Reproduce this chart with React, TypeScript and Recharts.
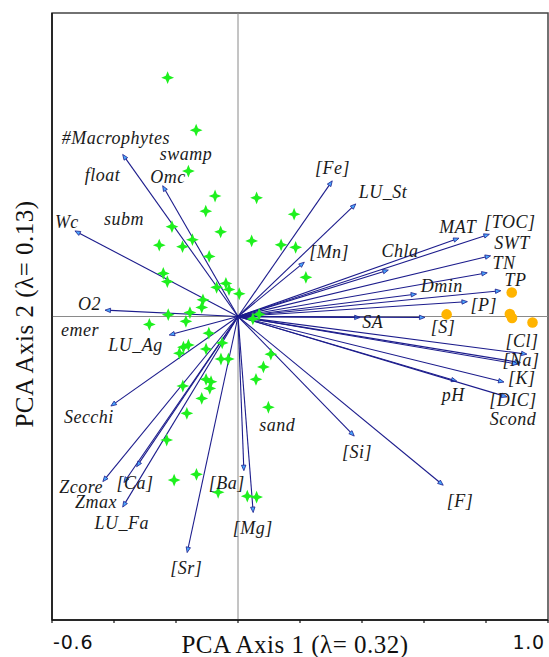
import React from 'react'
import {
  ScatterChart,
  Scatter,
  XAxis,
  YAxis,
  ReferenceLine,
  ReferenceArea,
} from 'recharts'

// lake sites (green stars)
const siteX = [-0.227, -0.135, -0.160, -0.074, 0.060, -0.104, -0.056, 0.044, -0.213, -0.147, -0.254, -0.179, -0.093, -0.241, -0.228, -0.069, -0.039, -0.029, 0.004, -0.113, -0.117, -0.155, -0.225, -0.286, -0.168, 0.181, 0.139, 0.186, 0.219, 0.068, 0.048, -0.094, -0.160, -0.176, -0.189, -0.103, -0.051, -0.055, -0.031, 0.106, 0.082, 0.058, -0.178, -0.103, -0.087, -0.091, -0.117, -0.165, 0.098, -0.230, -0.206, -0.134, -0.064, 0.030, 0.060]
const siteY = [0.787, 0.614, 0.479, 0.397, 0.391, 0.347, 0.279, 0.249, 0.296, 0.253, 0.235, 0.230, 0.198, 0.142, 0.115, 0.096, 0.109, 0.089, 0.075, 0.055, 0.030, 0.013, 0.006, -0.026, -0.016, 0.337, 0.236, 0.228, 0.129, 0.007, -0.008, -0.055, -0.094, -0.101, -0.121, -0.107, -0.087, -0.140, -0.140, -0.124, -0.166, -0.207, -0.229, -0.207, -0.215, -0.237, -0.270, -0.319, -0.299, -0.407, -0.539, -0.520, -0.579, -0.592, -0.595]

// saline sites (orange dots)
const salineX = [0.673, 0.883, 0.877, 0.884, 0.950]
const salineY = [0.007, 0.079, 0.008, -0.005, -0.020]

// environmental variables: arrow tips and where their names sit
const varNames = ['#Macrophytes', 'Omc', 'Wc', 'O2', 'LU_Ag', 'Secchi', 'Zcore', 'Zmax', '[Ca]', 'LU_Fa', '[Sr]', '[Ba]', '[Mg]', '[Fe]', 'LU_St', '[Mn]', 'Chla', 'MAT', '[TOC]', 'SWT', 'TN', 'TP', 'Dmin', '[P]', 'SA', '[S]', '[Cl]', '[Na]', 'Scond', '[K]', 'pH', '[DIC]', '[Si]', '[F]']
const varX = [-0.372, -0.243, -0.526, -0.429, -0.222, -0.410, -0.436, -0.368, -0.327, -0.372, -0.164, 0.019, 0.049, 0.304, 0.380, 0.214, 0.485, 0.713, 0.811, 0.815, 0.804, 0.848, 0.576, 0.740, 0.394, 0.603, 0.932, 0.911, 0.903, 0.858, 0.706, 0.868, 0.375, 0.662]
const varY = [0.534, 0.431, 0.282, 0.021, -0.061, -0.295, -0.544, -0.547, -0.495, -0.628, -0.778, -0.508, -0.646, 0.447, 0.371, 0.179, 0.153, 0.258, 0.271, 0.200, 0.144, 0.085, 0.074, 0.049, -0.003, -0.003, -0.124, -0.152, -0.157, -0.216, -0.213, -0.265, -0.394, -0.556]
const varLabelX = [-0.394, -0.226, -0.552, -0.479, -0.331, -0.481, -0.506, -0.458, -0.332, -0.375, -0.167, -0.036, 0.048, 0.305, 0.468, 0.294, 0.523, 0.709, 0.877, 0.884, 0.858, 0.895, 0.657, 0.793, 0.435, 0.661, 0.916, 0.913, 0.887, 0.915, 0.694, 0.887, 0.384, 0.716]
const varLabelY = [0.588, 0.460, 0.311, 0.041, -0.094, -0.331, -0.562, -0.611, -0.549, -0.680, -0.829, -0.549, -0.697, 0.488, 0.411, 0.214, 0.217, 0.296, 0.312, 0.243, 0.175, 0.120, 0.100, 0.038, -0.018, -0.035, -0.080, -0.143, -0.338, -0.203, -0.259, -0.275, -0.446, -0.607]

// nominal variables (centroids shown as names only)
const nomNames = ['swamp', 'float', 'subm', 'emer', 'sand']
const nomX = [-0.168, -0.437, -0.368, -0.510, 0.127]
const nomY = [0.535, 0.466, 0.321, -0.044, -0.357]

const xTicks = [-0.6, -0.4, -0.2, 0, 0.2, 0.4, 0.6, 0.8, 1.0]
const yTicks = [-1, -0.5, 0, 0.5, 1]

const sites = siteX.map((x, i) => ({ x, y: siteY[i] }))
const saline = salineX.map((x, i) => ({ x, y: salineY[i] }))
const labels = [
  ...varNames.map((name, i) => ({ name, x: varLabelX[i], y: varLabelY[i] })),
  ...nomNames.map((name, i) => ({ name, x: nomX[i], y: nomY[i] })),
]

const SERIF = "'Liberation Serif', 'Times New Roman', serif"
const NAVY = '#1c1c8c'

const Star = (p: any) => {
  const { cx, cy } = p
  const R = 6.4
  const r = 2.6
  const pts: string[] = []
  for (let k = 0; k < 8; k++) {
    const a = (k * Math.PI) / 4 - Math.PI / 2
    const rad = k % 2 === 0 ? R : r
    pts.push(`${cx + rad * Math.cos(a)},${cy + rad * Math.sin(a)}`)
  }
  return <polygon points={pts.join(' ')} fill="#1ef01e" />
}

const Dot = (p: any) => <circle cx={p.cx} cy={p.cy} r={5.3} fill="#ffb400" />

const Name = (p: any) => (
  <text
    x={p.cx}
    y={p.cy}
    textAnchor="middle"
    dominantBaseline="central"
    fontFamily={SERIF}
    fontStyle="italic"
    fontSize={18}
    letterSpacing={0.5}
    fill="#1a1a1a"
  >
    {p.payload.name}
  </text>
)

// shaft from the origin plus a small filled head at the tip
const Arrow = (p: any) => {
  const { x1, y1, x2, y2 } = p
  const dx = x2 - x1
  const dy = y2 - y1
  const len = Math.hypot(dx, dy) || 1
  const ux = dx / len
  const uy = dy / len
  const bx = x2 - ux * 5.5
  const by = y2 - uy * 5.5
  const head = `${x2},${y2} ${bx - uy * 2.2},${by + ux * 2.2} ${bx + uy * 2.2},${by - ux * 2.2}`
  return (
    <g>
      <line x1={x1} y1={y1} x2={bx} y2={by} stroke={NAVY} strokeWidth={1.1} />
      <polygon points={head} fill="#4aa8ff" stroke={NAVY} strokeWidth={0.8} />
    </g>
  )
}

const XTick = (p: any) => {
  const { x, y, payload } = p
  const v = payload.value
  if (v !== -0.6 && v !== 1) return <g />
  return (
    <text
      x={x + (v < 0 ? 1 : 0)}
      y={y + 24}
      textAnchor={v < 0 ? 'start' : 'end'}
      fontFamily="'DejaVu Sans', Arial, sans-serif"
      fontSize={19}
      letterSpacing={0.8}
      fill="#111"
    >
      {v.toFixed(1)}
    </text>
  )
}

const XTitle = (p: any) => {
  const vb = p.viewBox
  return (
    <text
      x={vb.x + vb.width / 2 - 5}
      y={vb.y + 33}
      textAnchor="middle"
      fontFamily={SERIF}
      fontSize={25}
      letterSpacing={0.5}
      fill="#111"
    >
      PCA Axis 1 (λ= 0.32)
    </text>
  )
}

const YTitle = (p: any) => {
  const vb = p.viewBox
  const cx = 33
  const cy = vb.y + vb.height / 2 - 2.5
  return (
    <text
      x={cx}
      y={cy}
      transform={`rotate(-90, ${cx}, ${cy})`}
      textAnchor="middle"
      fontFamily={SERIF}
      fontSize={25}
      letterSpacing={0.5}
      fill="#111"
    >
      PCA Axis 2 (λ= 0.13)
    </text>
  )
}

const App = () => {
  return (
    <div style={{ position: 'absolute', left: 0, top: 0 }}>
      <ScatterChart width={549} height={657} margin={{ top: 13, right: 1, bottom: 0, left: 0 }}>
        <XAxis
          type="number"
          dataKey="x"
          domain={[-0.6, 1.0]}
          ticks={xTicks}
          allowDataOverflow
          height={37}
          tickSize={3}
          tick={<XTick />}
          axisLine={{ stroke: '#111', strokeWidth: 1.5 }}
          tickLine={{ stroke: '#111', strokeWidth: 1.2 }}
          label={<XTitle />}
        />
        <YAxis
          type="number"
          dataKey="y"
          domain={[-1, 1]}
          ticks={yTicks}
          allowDataOverflow
          width={52}
          tickSize={3}
          tick={false}
          axisLine={{ stroke: '#111', strokeWidth: 1.5 }}
          tickLine={{ stroke: '#111', strokeWidth: 1.2 }}
          label={<YTitle />}
        />
        <ReferenceArea x1={-0.6} x2={1.0} y1={-1} y2={1} fill="none" stroke="#444" strokeWidth={1.5} />
        <ReferenceLine x={0} stroke="#8a8a8a" strokeWidth={1} />
        <ReferenceLine y={0} stroke="#8a8a8a" strokeWidth={1} />
        {varNames.map((name, i) => (
          <ReferenceLine
            key={name}
            segment={[{ x: 0, y: 0 }, { x: varX[i], y: varY[i] }]}
            shape={<Arrow />}
          />
        ))}
        <Scatter data={sites} shape={<Star />} isAnimationActive={false} />
        <Scatter data={saline} shape={<Dot />} isAnimationActive={false} />
        <Scatter data={labels} shape={<Name />} isAnimationActive={false} />
      </ScatterChart>
    </div>
  )
}

export default App
